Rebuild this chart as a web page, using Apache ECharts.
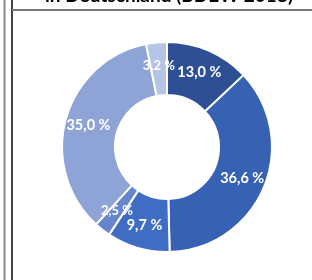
<!DOCTYPE html>
<html>
<head>
<meta charset="utf-8">
<script src="https://cdn.jsdelivr.net/npm/echarts@6/dist/echarts.min.js"></script>
<style>
	html, body { margin: 0; padding: 0; background: #fff; }
	#chart { width: 312px; height: 280px; }
</style>
</head>
<body>
<div id="chart"></div>
<script>
// Anteile in Prozent, im Uhrzeigersinn ab 12 Uhr
const shareValues = [13.0, 36.6, 9.7, 2.5, 35.0, 3.2]
const sliceColors = ['#2E4F93', '#3762B4', '#3F6DC3', '#6585CC', '#8EA3D6', '#B6C4E6']
const titleText = 'in Deutschland (BDEW 2018)'

const chart = echarts.init(document.getElementById('chart'))

const option = {
	animation: false,
	graphic: [
		// Rahmenlinien vom Ausschnitt
		{ type: 'line', shape: { x1: 4.5, y1: 0, x2: 4.5, y2: 280 }, style: { stroke: '#8a8a8a', lineWidth: 2 } },
		{ type: 'line', shape: { x1: 12, y1: 0, x2: 12, y2: 280 }, style: { stroke: '#444', lineWidth: 2 } },
		{ type: 'line', shape: { x1: 12, y1: 10, x2: 312, y2: 10 }, style: { stroke: '#777', lineWidth: 2 } },
		{
			type: 'text',
			left: 45,
			top: -14,
			style: {
				text: titleText,
				font: 'bold 19px Lato',
				fill: '#000'
			}
		}
	],
	series: [{
		type: 'pie',
		center: [167, 147],
		radius: [52, 105],
		startAngle: 90,
		clockwise: true,
		avoidLabelOverlap: false,
		itemStyle: {
			borderColor: '#fff',
			borderWidth: 2
		},
		label: {
			show: true,
			position: 'inside',
			color: '#fff',
			fontFamily: 'Lato',
			fontWeight: 'bold',
			fontSize: 14.5,
			formatter: (p) => p.value.toFixed(1).replace('.', ',') + ' %'
		},
		labelLine: { show: false },
		data: shareValues.map((v, i) => ({
			value: v,
			itemStyle: { color: sliceColors[i] },
			// kleine Segmente: sonst blendet ECharts das Label aus
			label: v < 5 ? { fontSize: 13 } : undefined
		}))
	}]
}

chart.setOption(option)
</script>
</body>
</html>
